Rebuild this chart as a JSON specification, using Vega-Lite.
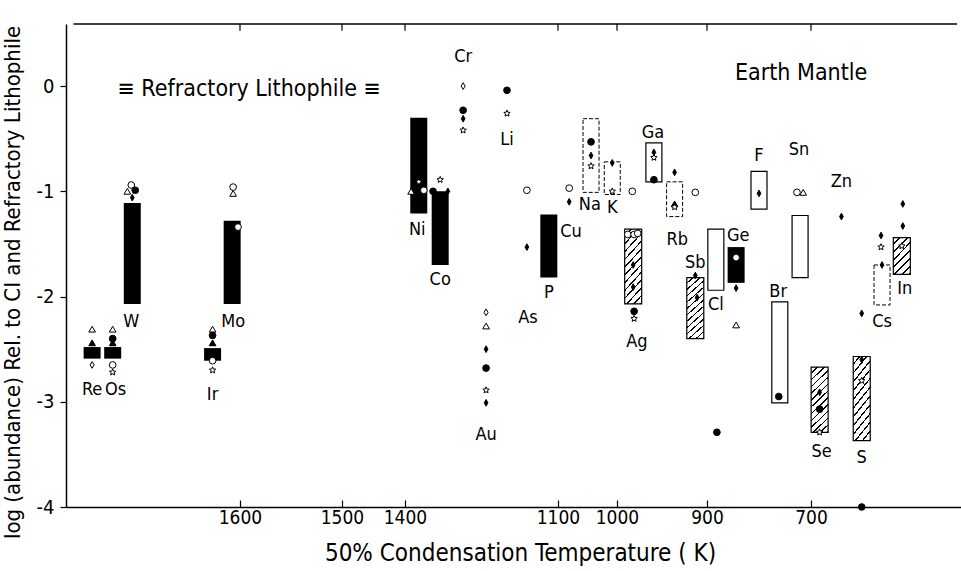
{
  "$schema": "https://vega.github.io/schema/vega-lite/v6.json",
  "width": 895,
  "height": 483,
  "autosize": {"type": "none"},
  "padding": {"left": 66, "top": 24, "right": 0, "bottom": 64},
  "background": "white",
  "config": {
    "view": {"stroke": null},
    "font": "DejaVu Sans Condensed, Liberation Sans Narrow, sans-serif",
    "axis": {"labelFont": "DejaVu Sans Condensed, Liberation Sans Narrow, sans-serif", "titleFont": "DejaVu Sans Condensed, Liberation Sans Narrow, sans-serif"}
  },
  "datasets": {
    "bars": [
      {"el": "Re", "T": 1751, "hi": -2.48, "lo": -2.59, "kind": "solid"},
      {"el": "Os", "T": 1730, "hi": -2.48, "lo": -2.59, "kind": "solid"},
      {"el": "W", "T": 1710, "hi": -1.11, "lo": -2.07, "kind": "solid"},
      {"el": "Ir", "T": 1628, "hi": -2.49, "lo": -2.61, "kind": "solid"},
      {"el": "Mo", "T": 1608, "hi": -1.28, "lo": -2.07, "kind": "solid"},
      {"el": "Ni", "T": 1373, "hi": -0.30, "lo": -1.21, "kind": "solid"},
      {"el": "Co", "T": 1331, "hi": -1.0, "lo": -1.70, "kind": "solid"},
      {"el": "P", "T": 1118, "hi": -1.22, "lo": -1.82, "kind": "solid"},
      {"el": "Ge", "T": 844, "hi": -1.53, "lo": -1.87, "kind": "solid"},
      {"el": "Na", "T": 1044, "hi": -0.31, "lo": -1.01, "kind": "dashed"},
      {"el": "K", "T": 1008, "hi": -0.72, "lo": -1.03, "kind": "dashed"},
      {"el": "Rb", "T": 936, "hi": -0.91, "lo": -1.24, "kind": "dashed"},
      {"el": "Cs", "T": 560, "hi": -1.70, "lo": -2.08, "kind": "dashed"},
      {"el": "Ga", "T": 959, "hi": -0.54, "lo": -0.91, "kind": "open"},
      {"el": "F", "T": 800, "hi": -0.81, "lo": -1.17, "kind": "open"},
      {"el": "Cl", "T": 883, "hi": -1.36, "lo": -1.94, "kind": "open"},
      {"el": "Sn", "T": 721, "hi": -1.23, "lo": -1.82, "kind": "open"},
      {"el": "Br", "T": 760, "hi": -2.05, "lo": -3.01, "kind": "open"},
      {"el": "Ag", "T": 982, "hi": -1.36, "lo": -2.07, "kind": "hatch"},
      {"el": "Sb", "T": 913, "hi": -1.82, "lo": -2.40, "kind": "hatch"},
      {"el": "Se", "T": 683, "hi": -2.67, "lo": -3.29, "kind": "hatch"},
      {"el": "S", "T": 600, "hi": -2.57, "lo": -3.37, "kind": "hatch"},
      {"el": "In", "T": 521, "hi": -1.44, "lo": -1.79, "kind": "hatch2"}
    ],
    "pts": [
      {"T": 1751, "v": -2.31, "sym": "otri"}, {"T": 1751, "v": -2.44, "sym": "ftri"}, {"T": 1751, "v": -2.65, "sym": "odia"},
      {"T": 1730, "v": -2.31, "sym": "otri"}, {"T": 1730, "v": -2.40, "sym": "fcir"}, {"T": 1730, "v": -2.44, "sym": "ftri"}, {"T": 1730, "v": -2.65, "sym": "ocir"}, {"T": 1730, "v": -2.72, "sym": "star"},
      {"T": 1628, "v": -2.31, "sym": "otri"}, {"T": 1628, "v": -2.37, "sym": "fcir"}, {"T": 1628, "v": -2.44, "sym": "ftri"}, {"T": 1628, "v": -2.61, "sym": "ocir"}, {"T": 1628, "v": -2.70, "sym": "star"},
      {"T": 1715, "v": -1.00, "sym": "otri"}, {"T": 1711, "v": -0.94, "sym": "ocir"}, {"T": 1707, "v": -0.99, "sym": "fcir"}, {"T": 1710, "v": -1.06, "sym": "fdia"},
      {"T": 1607, "v": -1.02, "sym": "otri"}, {"T": 1607, "v": -0.96, "sym": "ocir"}, {"T": 1602, "v": -1.34, "sym": "ocir"},
      {"T": 1388, "v": -1.00, "sym": "otri"}, {"T": 1373, "v": -0.91, "sym": "star"}, {"T": 1363, "v": -0.99, "sym": "ocir"},
      {"T": 1331, "v": -0.89, "sym": "star"}, {"T": 1345, "v": -1.00, "sym": "fcir"}, {"T": 1316, "v": -1.00, "sym": "fdia"},
      {"T": 1286, "v": 0.0, "sym": "odia"}, {"T": 1286, "v": -0.23, "sym": "fcir"}, {"T": 1286, "v": -0.31, "sym": "fdia"}, {"T": 1286, "v": -0.42, "sym": "star"},
      {"T": 1200, "v": -0.04, "sym": "fcir"}, {"T": 1200, "v": -0.26, "sym": "star"},
      {"T": 1241, "v": -2.15, "sym": "odia"}, {"T": 1241, "v": -2.28, "sym": "otri"}, {"T": 1241, "v": -2.50, "sym": "fdia"}, {"T": 1241, "v": -2.68, "sym": "fcir"}, {"T": 1241, "v": -2.89, "sym": "star"}, {"T": 1241, "v": -3.01, "sym": "fdia"},
      {"T": 1161, "v": -0.99, "sym": "ocir"}, {"T": 1161, "v": -1.53, "sym": "fdia"},
      {"T": 1081, "v": -0.97, "sym": "ocir"}, {"T": 1081, "v": -1.10, "sym": "fdia"},
      {"T": 1044, "v": -0.53, "sym": "fcir"}, {"T": 1044, "v": -0.66, "sym": "fdia"}, {"T": 1044, "v": -0.76, "sym": "star"},
      {"T": 1008, "v": -0.73, "sym": "fdia"}, {"T": 1008, "v": -1.00, "sym": "star"},
      {"T": 983, "v": -1.00, "sym": "ocir"},
      {"T": 959, "v": -0.63, "sym": "fdia"}, {"T": 959, "v": -0.68, "sym": "star"}, {"T": 959, "v": -0.89, "sym": "fcir"},
      {"T": 936, "v": -0.82, "sym": "fdia"}, {"T": 936, "v": -1.12, "sym": "ftri"}, {"T": 936, "v": -1.15, "sym": "star"},
      {"T": 913, "v": -1.01, "sym": "ocir"},
      {"T": 988, "v": -1.41, "sym": "ocir"}, {"T": 981, "v": -1.41, "sym": "ocir"}, {"T": 977, "v": -1.40, "sym": "ocir"}, {"T": 982, "v": -1.70, "sym": "fdia"}, {"T": 982, "v": -1.91, "sym": "fdia"}, {"T": 981, "v": -2.14, "sym": "fcir"}, {"T": 981, "v": -2.21, "sym": "star"},
      {"T": 913, "v": -1.80, "sym": "fdia"}, {"T": 911, "v": -2.01, "sym": "fdia"},
      {"T": 881, "v": -3.29, "sym": "fcir"},
      {"T": 844, "v": -1.63, "sym": "ocir"}, {"T": 844, "v": -1.92, "sym": "fdia"}, {"T": 844, "v": -2.27, "sym": "otri"},
      {"T": 800, "v": -1.02, "sym": "fdia"},
      {"T": 727, "v": -1.01, "sym": "ocir"}, {"T": 715, "v": -1.01, "sym": "otri"},
      {"T": 640, "v": -1.24, "sym": "fdia"},
      {"T": 762, "v": -2.95, "sym": "fcir"},
      {"T": 683, "v": -2.91, "sym": "fdia"}, {"T": 683, "v": -3.07, "sym": "fcir"}, {"T": 683, "v": -3.29, "sym": "star"},
      {"T": 600, "v": -2.16, "sym": "fdia"}, {"T": 600, "v": -2.60, "sym": "fdia"}, {"T": 600, "v": -2.80, "sym": "star"}, {"T": 600, "v": -4.0, "sym": "fcir"},
      {"T": 562, "v": -1.42, "sym": "fdia"}, {"T": 562, "v": -1.53, "sym": "star"}, {"T": 560, "v": -1.70, "sym": "fdia"},
      {"T": 519, "v": -1.12, "sym": "fdia"}, {"T": 519, "v": -1.33, "sym": "fdia"}, {"T": 521, "v": -1.52, "sym": "star"}
    ],
    "labels": [
      {"txt": "Re", "T": 1751, "v": -2.89}, {"txt": "Os", "T": 1727, "v": -2.89}, {"txt": "W", "T": 1711, "v": -2.24},
      {"txt": "Mo", "T": 1607, "v": -2.24}, {"txt": "Ir", "T": 1628, "v": -2.94}, {"txt": "Ni", "T": 1376, "v": -1.37},
      {"txt": "Co", "T": 1331, "v": -1.84}, {"txt": "Cr", "T": 1286, "v": 0.28}, {"txt": "Li", "T": 1200, "v": -0.51},
      {"txt": "Au", "T": 1241, "v": -3.32}, {"txt": "As", "T": 1159, "v": -2.20}, {"txt": "P", "T": 1118, "v": -1.97},
      {"txt": "Cu", "T": 1078, "v": -1.39}, {"txt": "Na", "T": 1046, "v": -1.13}, {"txt": "K", "T": 1008, "v": -1.16},
      {"txt": "Ga", "T": 960, "v": -0.45}, {"txt": "Rb", "T": 933, "v": -1.46}, {"txt": "Ag", "T": 978, "v": -2.43},
      {"txt": "Sb", "T": 913, "v": -1.68}, {"txt": "Cl", "T": 883, "v": -2.08}, {"txt": "Ge", "T": 840, "v": -1.42},
      {"txt": "F", "T": 800, "v": -0.66}, {"txt": "Sn", "T": 723, "v": -0.61}, {"txt": "Zn", "T": 640, "v": -0.91},
      {"txt": "Br", "T": 763, "v": -1.96}, {"txt": "Se", "T": 679, "v": -3.48}, {"txt": "S", "T": 600, "v": -3.53},
      {"txt": "Cs", "T": 560, "v": -2.24}, {"txt": "In", "T": 515, "v": -1.93}
    ],
    "notes": [
      {"txt": "≡ Refractory Lithophile ≡", "T": 1591, "v": -0.03},
      {"txt": "Earth Mantle", "T": 719, "v": 0.12}
    ],
    "ticks": [{"T": 1600}, {"T": 1500}, {"T": 1400}, {"T": 1100}, {"T": 1000}, {"T": 900}, {"T": 700}]
  },
  "layer": [
    {
      "data": {"name": "bars"},
      "transform": [{"filter": "datum.kind == 'solid'"}],
      "mark": {"type": "bar", "width": 17, "fill": "black"},
      "encoding": {
        "x": {"field": "T", "type": "quantitative",
          "scale": {"type": "linear", "domain": [1770, 1600, 1500, 1400, 1100, 1000, 900, 700, 412], "range": [0, 174, 276, 339, 492, 551, 641, 745, 895], "nice": false, "zero": false},
          "axis": {"orient": "bottom", "values": [1600, 1500, 1400, 1100, 1000, 900, 700], "format": "d", "labelFontSize": 19, "labelColor": "black", "labelPadding": 8, "labelFlush": false, "labelOverlap": false, "tickSize": -7, "tickColor": "black", "tickWidth": 1.2, "domainColor": "black", "domainWidth": 1.5, "grid": false,
            "title": "50% Condensation Temperature  ( K)", "titleFontSize": 24, "titleFontWeight": "normal", "titleColor": "black", "titleX": 454, "titleY": 46, "titleAlign": "center", "titleBaseline": "middle"}},
        "y": {"field": "hi", "type": "quantitative",
          "scale": {"domain": [-4, 0.59], "nice": false, "zero": false},
          "axis": {"orient": "left", "values": [-4, -3, -2, -1, 0], "labelExpr": "datum.value == 0 ? '0' : '-' + abs(datum.value)", "labelFontSize": 20, "labelColor": "black", "labelPadding": 6, "labelFlush": false, "tickSize": 6, "tickColor": "black", "tickWidth": 1.2, "domainColor": "black", "domainWidth": 1.5, "grid": false,
            "title": "log (abundance) Rel. to CI and Refractory Lithophile", "titleFontSize": 22, "titleFontWeight": "normal", "titleColor": "black", "titleX": -54, "titleY": 258, "titleAngle": -90, "titleAlign": "center", "titleBaseline": "middle"}},
        "y2": {"field": "lo"}
      }
    },
    {
      "data": {"name": "bars"},
      "transform": [{"filter": "datum.kind == 'open'"}],
      "mark": {"type": "bar", "width": 16, "fill": "white", "stroke": "black", "strokeWidth": 1.2},
      "encoding": {
        "x": {"field": "T", "type": "quantitative", "scale": {"type": "linear", "domain": [1770, 1600, 1500, 1400, 1100, 1000, 900, 700, 412], "range": [0, 174, 276, 339, 492, 551, 641, 745, 895], "nice": false, "zero": false}},
        "y": {"field": "hi", "type": "quantitative", "scale": {"domain": [-4, 0.59], "nice": false, "zero": false}},
        "y2": {"field": "lo"}
      }
    },
    {
      "data": {"name": "bars"},
      "transform": [{"filter": "datum.kind == 'dashed'"}],
      "mark": {"type": "bar", "width": 16, "fill": "white", "stroke": "black", "strokeWidth": 1, "strokeDash": [4, 2]},
      "encoding": {
        "x": {"field": "T", "type": "quantitative", "scale": {"type": "linear", "domain": [1770, 1600, 1500, 1400, 1100, 1000, 900, 700, 412], "range": [0, 174, 276, 339, 492, 551, 641, 745, 895], "nice": false, "zero": false}},
        "y": {"field": "hi", "type": "quantitative", "scale": {"domain": [-4, 0.59], "nice": false, "zero": false}},
        "y2": {"field": "lo"}
      }
    },
    {
      "data": {"name": "bars"},
      "transform": [{"filter": "datum.kind == 'hatch'"}],
      "mark": {"type": "bar", "width": 17, "stroke": "black", "strokeWidth": 1.2,
        "fill": {"gradient": "linear", "x1": 0, "y1": 0, "x2": 0.294, "y2": 1.176, "stops": [
          {"offset": 0, "color": "white"}, {"offset": 0.065, "color": "white"}, {"offset": 0.065, "color": "black"}, {"offset": 0.0833, "color": "black"},
          {"offset": 0.0833, "color": "white"}, {"offset": 0.1483, "color": "white"}, {"offset": 0.1483, "color": "black"}, {"offset": 0.1667, "color": "black"},
          {"offset": 0.1667, "color": "white"}, {"offset": 0.2317, "color": "white"}, {"offset": 0.2317, "color": "black"}, {"offset": 0.25, "color": "black"},
          {"offset": 0.25, "color": "white"}, {"offset": 0.315, "color": "white"}, {"offset": 0.315, "color": "black"}, {"offset": 0.3333, "color": "black"},
          {"offset": 0.3333, "color": "white"}, {"offset": 0.3983, "color": "white"}, {"offset": 0.3983, "color": "black"}, {"offset": 0.4167, "color": "black"},
          {"offset": 0.4167, "color": "white"}, {"offset": 0.4817, "color": "white"}, {"offset": 0.4817, "color": "black"}, {"offset": 0.5, "color": "black"},
          {"offset": 0.5, "color": "white"}, {"offset": 0.565, "color": "white"}, {"offset": 0.565, "color": "black"}, {"offset": 0.5833, "color": "black"},
          {"offset": 0.5833, "color": "white"}, {"offset": 0.6483, "color": "white"}, {"offset": 0.6483, "color": "black"}, {"offset": 0.6667, "color": "black"},
          {"offset": 0.6667, "color": "white"}, {"offset": 0.7317, "color": "white"}, {"offset": 0.7317, "color": "black"}, {"offset": 0.75, "color": "black"},
          {"offset": 0.75, "color": "white"}, {"offset": 0.815, "color": "white"}, {"offset": 0.815, "color": "black"}, {"offset": 0.8333, "color": "black"},
          {"offset": 0.8333, "color": "white"}, {"offset": 0.8983, "color": "white"}, {"offset": 0.8983, "color": "black"}, {"offset": 0.9167, "color": "black"},
          {"offset": 0.9167, "color": "white"}, {"offset": 0.9817, "color": "white"}, {"offset": 0.9817, "color": "black"}, {"offset": 1, "color": "black"}
        ]}},
      "encoding": {
        "x": {"field": "T", "type": "quantitative", "scale": {"type": "linear", "domain": [1770, 1600, 1500, 1400, 1100, 1000, 900, 700, 412], "range": [0, 174, 276, 339, 492, 551, 641, 745, 895], "nice": false, "zero": false}},
        "y": {"field": "hi", "type": "quantitative", "scale": {"domain": [-4, 0.59], "nice": false, "zero": false}},
        "y2": {"field": "lo"}
      }
    },
    {
      "data": {"name": "bars"},
      "transform": [{"filter": "datum.kind == 'hatch2'"}],
      "mark": {"type": "bar", "width": 17, "stroke": "black", "strokeWidth": 1.2,
        "fill": {"gradient": "linear", "x1": 0, "y1": 0, "x2": 0.566, "y2": 1.204, "stops": [
          {"offset": 0, "color": "white"}, {"offset": 0.1079, "color": "white"}, {"offset": 0.1079, "color": "black"}, {"offset": 0.1429, "color": "black"},
          {"offset": 0.1429, "color": "white"}, {"offset": 0.2507, "color": "white"}, {"offset": 0.2507, "color": "black"}, {"offset": 0.2857, "color": "black"},
          {"offset": 0.2857, "color": "white"}, {"offset": 0.3936, "color": "white"}, {"offset": 0.3936, "color": "black"}, {"offset": 0.4286, "color": "black"},
          {"offset": 0.4286, "color": "white"}, {"offset": 0.5364, "color": "white"}, {"offset": 0.5364, "color": "black"}, {"offset": 0.5714, "color": "black"},
          {"offset": 0.5714, "color": "white"}, {"offset": 0.6793, "color": "white"}, {"offset": 0.6793, "color": "black"}, {"offset": 0.7143, "color": "black"},
          {"offset": 0.7143, "color": "white"}, {"offset": 0.8221, "color": "white"}, {"offset": 0.8221, "color": "black"}, {"offset": 0.8571, "color": "black"},
          {"offset": 0.8571, "color": "white"}, {"offset": 0.965, "color": "white"}, {"offset": 0.965, "color": "black"}, {"offset": 1, "color": "black"}
        ]}},
      "encoding": {
        "x": {"field": "T", "type": "quantitative", "scale": {"type": "linear", "domain": [1770, 1600, 1500, 1400, 1100, 1000, 900, 700, 412], "range": [0, 174, 276, 339, 492, 551, 641, 745, 895], "nice": false, "zero": false}},
        "y": {"field": "hi", "type": "quantitative", "scale": {"domain": [-4, 0.59], "nice": false, "zero": false}},
        "y2": {"field": "lo"}
      }
    },
    {
      "data": {"name": "ticks"},
      "mark": {"type": "rule", "stroke": "black", "strokeWidth": 1.2},
      "encoding": {
        "x": {"field": "T", "type": "quantitative", "scale": {"type": "linear", "domain": [1770, 1600, 1500, 1400, 1100, 1000, 900, 700, 412], "range": [0, 174, 276, 339, 492, 551, 641, 745, 895], "nice": false, "zero": false}},
        "y": {"datum": 0.59, "type": "quantitative", "scale": {"domain": [-4, 0.59], "nice": false, "zero": false}},
        "y2": {"datum": 0.525}
      }
    },
    {
      "data": {"values": [{"a": 1}]},
      "mark": {"type": "rule", "stroke": "black", "strokeWidth": 1.5},
      "encoding": {
        "x": {"datum": 1770, "type": "quantitative", "scale": {"type": "linear", "domain": [1770, 1600, 1500, 1400, 1100, 1000, 900, 700, 412], "range": [0, 174, 276, 339, 492, 551, 641, 745, 895], "nice": false, "zero": false}},
        "x2": {"datum": 412},
        "y": {"datum": 0.59, "type": "quantitative", "scale": {"domain": [-4, 0.59], "nice": false, "zero": false}}
      }
    },
    {
      "data": {"name": "pts"},
      "mark": {"type": "point", "filled": true, "stroke": "black", "strokeWidth": 1, "opacity": 1},
      "encoding": {
        "x": {"field": "T", "type": "quantitative", "scale": {"type": "linear", "domain": [1770, 1600, 1500, 1400, 1100, 1000, 900, 700, 412], "range": [0, 174, 276, 339, 492, 551, 641, 745, 895], "nice": false, "zero": false}},
        "y": {"field": "v", "type": "quantitative", "scale": {"domain": [-4, 0.59], "nice": false, "zero": false}},
        "shape": {"field": "sym", "type": "nominal", "legend": null, "scale": {"domain": ["otri", "ocir", "odia", "star", "fcir", "fdia", "ftri"], "range": ["triangle-up", "circle", "M0,-1L0.6,0L0,1L-0.6,0Z", "M0,-1L0.265,-0.364L0.951,-0.309L0.428,0.139L0.588,0.809L0,0.45L-0.588,0.809L-0.428,0.139L-0.951,-0.309L-0.265,-0.364Z", "circle", "M0,-1L0.55,0L0,1L-0.55,0Z", "triangle-up"]}},
        "fill": {"field": "sym", "type": "nominal", "legend": null, "scale": {"domain": ["otri", "ocir", "odia", "star", "fcir", "fdia", "ftri"], "range": ["white", "white", "white", "white", "black", "black", "black"]}},
        "size": {"field": "sym", "type": "ordinal", "legend": null, "scale": {"domain": ["otri", "ocir", "odia", "star", "fcir", "fdia", "ftri"], "range": [45, 45, 80, 85, 24, 150, 50]}}
      }
    },
    {
      "data": {"name": "labels"},
      "mark": {"type": "text", "fontSize": 18, "color": "black", "align": "center", "baseline": "middle"},
      "encoding": {
        "x": {"field": "T", "type": "quantitative", "scale": {"type": "linear", "domain": [1770, 1600, 1500, 1400, 1100, 1000, 900, 700, 412], "range": [0, 174, 276, 339, 492, 551, 641, 745, 895], "nice": false, "zero": false}},
        "y": {"field": "v", "type": "quantitative", "scale": {"domain": [-4, 0.59], "nice": false, "zero": false}},
        "text": {"field": "txt"}
      }
    },
    {
      "data": {"name": "notes"},
      "mark": {"type": "text", "fontSize": 23, "color": "black", "align": "center", "baseline": "middle"},
      "encoding": {
        "x": {"field": "T", "type": "quantitative", "scale": {"type": "linear", "domain": [1770, 1600, 1500, 1400, 1100, 1000, 900, 700, 412], "range": [0, 174, 276, 339, 492, 551, 641, 745, 895], "nice": false, "zero": false}},
        "y": {"field": "v", "type": "quantitative", "scale": {"domain": [-4, 0.59], "nice": false, "zero": false}},
        "text": {"field": "txt"}
      }
    }
  ]
}
